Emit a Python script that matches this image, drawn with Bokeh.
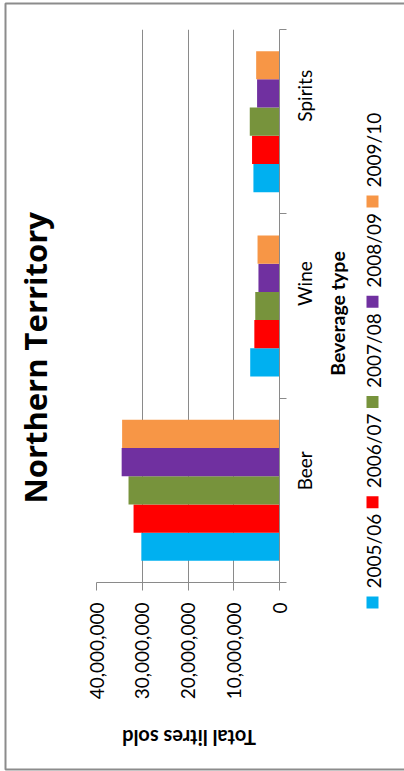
import math

from bokeh.core.properties import value
from bokeh.embed import file_html
from bokeh.models import ColumnDataSource, FixedTicker, NumeralTickFormatter, Range1d
from bokeh.plotting import figure
from bokeh.resources import INLINE

# ---- data -------------------------------------------------------------
categories = ["Beer", "Wine", "Spirits"]
years = ["2005/06", "2006/07", "2007/08", "2008/09", "2009/10"]
colors = ["#00B0F0", "#FF0000", "#77933C", "#7030A0", "#F79646"]

# total litres sold per beverage type (Beer, Wine, Spirits)
sales_2005_06 = [30_200_000, 6_400_000, 5_700_000]
sales_2006_07 = [31_900_000, 5_500_000, 6_000_000]
sales_2007_08 = [33_000_000, 5_300_000, 6_500_000]
sales_2008_09 = [34_500_000, 4_600_000, 4_900_000]
sales_2009_10 = [34_400_000, 4_800_000, 5_100_000]
series = [sales_2005_06, sales_2006_07, sales_2007_08, sales_2008_09, sales_2009_10]

value_ticks = [0, 10_000_000, 20_000_000, 30_000_000, 40_000_000]

chart_title = "Northern Territory"
value_title = "Total litres sold"
category_title = "Beverage type"

# ---- layout / styling -------------------------------------------------
FONT = "Lato"
GRID = "#8a8a8a"
W, H = 404, 771
FRAME_L, FRAME_R, FRAME_T, FRAME_B = 96, 279, 29, 582
BAR_H = 0.153

p = figure(
    width=W, height=H,
    x_range=Range1d(value_ticks[-1], 0),
    y_range=Range1d(0, len(categories)),
    x_axis_location="below", y_axis_location="right",
    output_backend="svg", toolbar_location=None,
    min_border_left=FRAME_L, min_border_top=FRAME_T,
    min_border_bottom=H - FRAME_B, min_border_right=W - FRAME_R,
)
p.outline_line_color = None
p.background_fill_color = "white"
p.border_fill_color = "white"

# grouped bars, one series per financial year
for i, (yr, vals, col) in enumerate(zip(years, series, colors)):
    offset = (i - (len(years) - 1) / 2) * BAR_H
    src = ColumnDataSource(dict(
        y=[k + 0.5 + offset for k in range(len(categories))],
        right=vals,
        cat=categories,
    ))
    p.hbar(y="y", left=0, right="right", height=BAR_H, color=col,
           line_color=None, source=src)

# value axis
xa = p.xaxis[0]
xa.ticker = FixedTicker(ticks=value_ticks, minor_ticks=[])
xa.formatter = NumeralTickFormatter(format="0,0")
xa.major_label_orientation = math.pi / 2
xa.major_label_text_font = FONT
xa.major_label_text_font_size = "19px"
xa.major_label_text_color = "black"
xa.major_label_standoff = 12
xa.major_tick_out = 8
xa.major_tick_in = 0
xa.axis_line_color = GRID
xa.major_tick_line_color = GRID

# category axis (ticks mark boundaries between categories)
ya = p.yaxis[0]
ya.ticker = FixedTicker(ticks=[k + 0.5 for k in range(len(categories))],
                        minor_ticks=list(range(len(categories) + 1)))
ya.major_label_overrides = {k + 0.5: c for k, c in enumerate(categories)}
ya.major_label_orientation = math.pi / 2
ya.major_label_text_font = FONT
ya.major_label_text_font_size = "19px"
ya.major_label_text_color = "black"
ya.major_label_standoff = 18
ya.major_tick_line_color = None
ya.major_tick_out = 0
ya.minor_tick_out = 7
ya.minor_tick_in = 0
ya.minor_tick_line_color = GRID
ya.axis_line_color = GRID

p.xgrid.grid_line_color = GRID
p.ygrid.grid_line_color = None

# pixel-space ranges for titles, legend column and chart border
p.extra_x_ranges["px"] = Range1d(FRAME_L, FRAME_R)
p.extra_y_ranges["px"] = Range1d(FRAME_B, FRAME_T)
PX = dict(x_range_name="px", y_range_name="px", level="overlay")

# chart title, reading upward along the left edge
p.text(x=[34], y=[503], text=[chart_title], angle=math.pi / 2,
       text_align="left", text_baseline="alphabetic",
       text_font=value("Open Sans"), text_font_style="bold",
       text_font_size="31px", text_color="black", **PX)

# axis titles
p.text(x=[(FRAME_L + FRAME_R) / 2 + 1], y=[737], text=[value_title],
       angle=math.pi, text_align="center", text_baseline="alphabetic",
       text_font=value(FONT), text_font_style="bold", text_font_size="20px",
       text_color="black", **PX)
p.text(x=[337], y=[313], text=[category_title],
       angle=math.pi / 2, text_align="center", text_baseline="alphabetic",
       text_font=value(FONT), text_font_style="bold", text_font_size="19.5px",
       text_color="black", **PX)

# legend column, entries stacked upward
LEG_X = 372
LEG_START = 602
LEG_STEP = 100.25
sq_y = [LEG_START - i * LEG_STEP for i in range(len(years))]
leg_src = ColumnDataSource(dict(
    x=[LEG_X] * len(years), tx=[LEG_X + 1] * len(years), y=sq_y,
    ty=[v - 14 for v in sq_y], color=colors, label=years,
))
p.rect(x="x", y="y", width=12, height=12, color="color", line_color=None,
       source=leg_src, **PX)
p.text(x="tx", y="ty", text="label", angle=math.pi / 2, text_align="left",
       text_baseline="middle", text_font=value(FONT), text_font_size="19px",
       text_color="black", source=leg_src, **PX)

# chart area border
p.quad(left=[5], right=[W + 20], top=[3], bottom=[769], fill_color=None,
       line_color="#8c8c8c", line_width=2, **PX)

open("out.html", "w").write(file_html(p, INLINE))
